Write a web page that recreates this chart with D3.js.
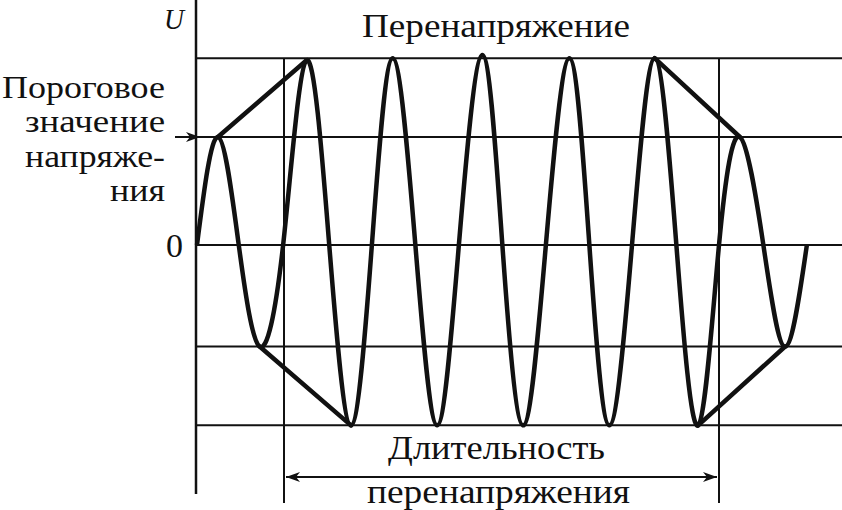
<!DOCTYPE html>
<html><head><meta charset="utf-8">
<script src="https://cdn.jsdelivr.net/npm/d3@7"></script>
<style>html,body{margin:0;padding:0;background:#fff;} svg{display:block;}</style>
</head><body>
<script>
// Wave: zero crossings and extremes (time in periods, value in threshold units)
const waveT = [0, 0.24, 0.48, 0.72, 0.99, 1.26, 1.52, 1.77, 2.01, 2.25, 2.51, 2.76, 3.01, 3.28, 3.51, 3.75, 4.01, 4.28, 4.51, 4.74, 5.00, 5.26, 5.51, 5.76, 6.00, 6.24, 6.51, 6.76, 7.01];
const waveV = [0, 1.0, 0, -0.94, 0, 1.71, 0, -1.67, 0, 1.73, 0, -1.67, 0, 1.76, 0, -1.67, 0, 1.73, 0, -1.67, 0, 1.73, 0, -1.67, 0, 1.0, 0, -0.94, 0];
// Envelope segments (start/end time, start/end value)
const envT = [[0.24, 1.26], [5.26, 6.24], [0.72, 1.77], [5.76, 6.76]];
const envV = [[1.0, 1.71], [1.73, 1.0], [-0.94, -1.67], [-1.67, -0.94]];
// Horizontal grid levels and vertical marker times
const gridLevels = [1.73, 1.0, 0, -0.94, -1.67];
const markerTimes = [1.0, 6.0];
// Texts
const axisLabel = "U";
const zeroLabel = "0";
const topLabel = "Перенапряжение";
const thresholdLines = ["Пороговое", "значение", "напряже-", "ния"];
const durationLines = ["Длительность", "перенапряжения"];

const W = 842, H = 510;
const svg = d3.select("body").append("svg").attr("width", W).attr("height", H);
const x = d3.scaleLinear().domain([0, 7]).range([197, 806]);
const y = d3.scaleLinear().domain([0, 1]).range([245, 137]);
const font = '"Liberation Serif"';
const ink = "#111";

// grid
svg.append("g").selectAll("line").data(gridLevels).join("line")
  .attr("x1", x(0)).attr("x2", W).attr("y1", d => y(d)).attr("y2", d => y(d))
  .attr("stroke", ink).attr("stroke-width", 2);
svg.append("g").selectAll("line").data(markerTimes).join("line")
  .attr("x1", d => x(d)).attr("x2", d => x(d)).attr("y1", y(gridLevels[0])).attr("y2", 503)
  .attr("stroke", ink).attr("stroke-width", 2);
// axis
svg.append("line").attr("x1", x(0) - 1).attr("x2", x(0) - 1).attr("y1", 0).attr("y2", 494)
  .attr("stroke", ink).attr("stroke-width", 2.5);

// wave
const pts = waveT.map((t, i) => [t, waveV[i]]);
svg.append("path").datum(pts)
  .attr("d", d3.line().x(d => x(d[0])).y(d => y(d[1])).curve(d3.curveNatural))
  .attr("fill", "none").attr("stroke", ink).attr("stroke-width", 4.5).attr("stroke-linejoin", "round");
// envelope
svg.append("g").selectAll("line").data(envT.map((t, i) => ({t, v: envV[i]}))).join("line")
  .attr("x1", d => x(d.t[0])).attr("x2", d => x(d.t[1]))
  .attr("y1", d => y(d.v[0])).attr("y2", d => y(d.v[1]))
  .attr("stroke", ink).attr("stroke-width", 4.5).attr("stroke-linecap", "round");

// arrowheads
const defs = svg.append("defs");
defs.append("marker").attr("id", "ah").attr("viewBox", "0 0 14 10").attr("refX", 14).attr("refY", 5)
  .attr("markerWidth", 14).attr("markerHeight", 10).attr("markerUnits", "userSpaceOnUse").attr("orient", "auto-start-reverse")
  .append("path").attr("d", "M0,0 L14,5 L0,10 L4,5 Z").attr("fill", ink);

// threshold arrow
svg.append("line").attr("x1", 175).attr("x2", x(0) + 3).attr("y1", y(1)).attr("y2", y(1))
  .attr("stroke", ink).attr("stroke-width", 2).attr("marker-end", "url(#ah)");
// duration arrow
svg.append("line").attr("x1", x(markerTimes[0]) + 2).attr("x2", x(markerTimes[1]) - 2).attr("y1", 477).attr("y2", 477)
  .attr("stroke", ink).attr("stroke-width", 2).attr("marker-start", "url(#ah)").attr("marker-end", "url(#ah)");

// texts
function txt(s, xLeft, yBase, size, width, italic) {
  const t = svg.append("text").text(s).attr("x", xLeft).attr("y", yBase)
    .style("font-family", font).style("font-size", size + "px").attr("fill", ink);
  if (italic) t.style("font-style", "italic");
  if (width) t.attr("textLength", width).attr("lengthAdjust", "spacingAndGlyphs");
  return t;
}
txt(axisLabel, 164, 29, 30, 20, true);
txt(zeroLabel, 166, 257, 33, 17);
txt(topLabel, 362, 37, 34, 268);
const thrW = [163, 140, 140, 55];
thresholdLines.forEach((s, i) => txt(s, 165 - thrW[i], 98 + i * 34.3, 32, thrW[i]));
const durX = [388, 367], durW = [217, 263];
durationLines.forEach((s, i) => txt(s, durX[i], 459 + i * 44, 34, durW[i]));
</script>
</body></html>
